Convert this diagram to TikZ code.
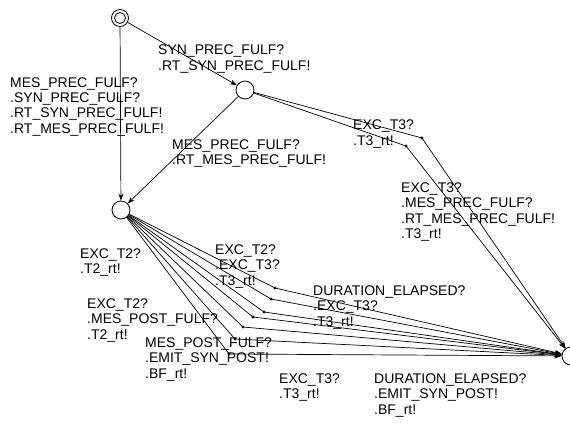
\documentclass[tikz,border=0pt]{standalone}
\usepackage{fontspec}
\setmainfont{Liberation Sans}
\usetikzlibrary{arrows.meta}
\begin{document}
\begin{tikzpicture}[x=1pt,y=-1pt,
  loc/.style={circle,draw,line width=0.8pt,minimum size=18pt,inner sep=0pt,fill=white},
  edge/.style={draw,line width=0.7pt,-{Stealth[length=7pt,width=5pt]}},
  lbl/.style={anchor=base west,inner sep=0pt,align=left,font=\fontsize{14}{15.5}\selectfont}]
\useasboundingbox (0,0) rectangle (570,425);
% locations
\node[loc,minimum size=17pt] (A) at (120,18) {};
\node[loc] (B) at (245,90) {};
\node[loc] (C) at (121,210) {};
\node[loc] (D) at (571,356) {};
\draw[line width=0.8pt] (A.center) circle (5.5pt);
% nails
\coordinate (b1) at (422,138);
\coordinate (b2) at (406,146);
\coordinate (p1) at (275,288);
\coordinate (p2) at (271,299);
\coordinate (p3) at (264,312);
\coordinate (p4) at (253,317);
\coordinate (p5) at (243,327);
\coordinate (p6) at (235,339);
\coordinate (p7) at (229,354);
% edges
\draw[edge] (A) -- (C);
\draw[edge] (A) -- (B);
\draw[edge] (B) -- (C);
\draw[edge] (B) -- (b1) -- (D);
\draw[edge] (B) -- (b2) -- (D);
\foreach \p in {p1,p2,p3,p4,p5,p6,p7}{\draw[edge] (C) -- (\p) -- (D);}
\foreach \p in {b1,b2,p1,p2,p3,p4,p5,p6,p7}{\fill (\p) circle (1.6pt);}
% labels (anchor = baseline of the last line)
\node[lbl] (l1) at (10,133.5) {MES\_PREC\_FULF?\\.SYN\_PREC\_FULF?\\.RT\_SYN\_PREC\_FULF!\\.RT\_MES\_PREC\_FULF!};
\node[lbl] (l2) at (158,70.5) {SYN\_PREC\_FULF?\\.RT\_SYN\_PREC\_FULF!};
\node[lbl] (l3) at (172,164.5) {MES\_PREC\_FULF?\\.RT\_MES\_PREC\_FULF!};
\node[lbl] (l4) at (353,145.5) {EXC\_T3?\\.T3\_rt!};
\node[lbl] (l5) at (401,238.5) {EXC\_T3?\\.MES\_PREC\_FULF?\\.RT\_MES\_PREC\_FULF!\\.T3\_rt!};
\node[lbl] (l6) at (80,273.5) {EXC\_T2?\\.T2\_rt!};
\node[lbl] (l7) at (215,285) {EXC\_T2?\\.EXC\_T3?\\.T3\_rt!};
\node[lbl] (l8) at (313,326) {DURATION\_ELAPSED?\\.EXC\_T3?\\.T3\_rt!};
\node[lbl] (l9) at (87,339) {EXC\_T2?\\.MES\_POST\_FULF?\\.T2\_rt!};
\node[lbl] (l10) at (145,378) {MES\_POST\_FULF?\\.EMIT\_SYN\_POST!\\.BF\_rt!};
\node[lbl] (l11) at (279,398.5) {EXC\_T3?\\.T3\_rt!};
\node[lbl] (l12) at (374,414) {DURATION\_ELAPSED?\\.EMIT\_SYN\_POST!\\.BF\_rt!};
\end{tikzpicture}
\end{document}
